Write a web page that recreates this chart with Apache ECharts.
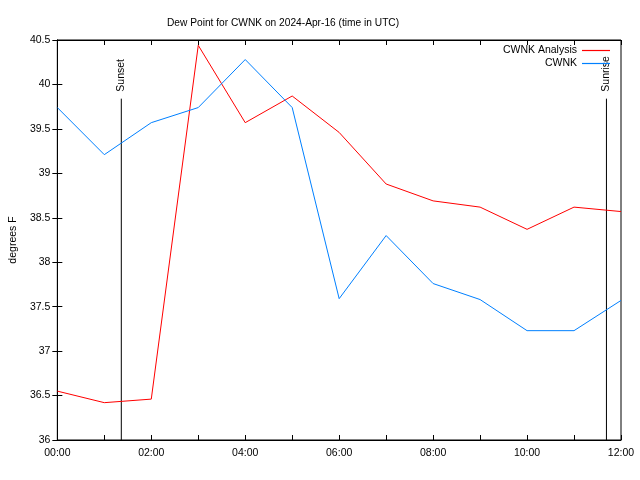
<!DOCTYPE html>
<html><head><meta charset="utf-8">
<script src="https://cdn.jsdelivr.net/npm/echarts@6/dist/echarts.min.js"></script>
<style>html,body{margin:0;padding:0;background:#fff}#c{width:640px;height:480px}</style>
</head><body><div id="c"></div>
<script>
var hours = [0,1,2,3,4,5,6,7,8,9,10,11,12];
var analysis = [36.55,36.42,36.46,40.44,39.57,39.87,39.46,38.88,38.69,38.62,38.37,38.62,38.57];
var cwnk = [39.74,39.21,39.57,39.74,40.28,39.74,37.59,38.30,37.76,37.58,37.23,37.23,37.57];
var xTickLabels = ['00:00','','02:00','','04:00','','06:00','','08:00','','10:00','','12:00'];
var sunEvents = [{name:'Sunset', hour:1.362}, {name:'Sunrise', hour:11.69}];
var sunLineTop = 39.84;
var FONT = 'Liberation Sans';
var FS = 10.5;

function pairs(vals){ return hours.map(function(h,i){return [h, vals[i]];}); }

var series = [
  {name:'CWNK Analysis', type:'line', data:pairs(analysis), symbol:'none', lineStyle:{color:'#ff0000', width:1}, itemStyle:{color:'#ff0000'}, z:3},
  {name:'CWNK', type:'line', data:pairs(cwnk), symbol:'none', lineStyle:{color:'#0080ff', width:1}, itemStyle:{color:'#0080ff'}, z:3}
];
sunEvents.forEach(function(ev){
  series.push({
    name:ev.name, type:'line', silent:true, symbol:'none', z:2,
    lineStyle:{color:'#000', width:1},
    data:[[ev.hour,36],{value:[ev.hour,sunLineTop], symbol:'circle', symbolSize:0.001,
      label:{show:true, formatter:ev.name, rotate:90, position:'top', distance:7,
        align:'left', verticalAlign:'middle', color:'#000', fontFamily:FONT, fontSize:FS}}]
  });
});

var chart = echarts.init(document.getElementById('c'));
chart.setOption({
  animation:false,
  backgroundColor:'#fff',
  title:{text:'Dew Point for CWNK on 2024-Apr-16 (time in UTC)', left:162, top:13,
    textStyle:{fontFamily:FONT, fontSize:10.2, fontWeight:'normal', color:'#000'}},
  legend:{data:[{name:'CWNK Analysis', icon:'rect', itemStyle:{color:'#ff0000'}},
                {name:'CWNK', icon:'rect', itemStyle:{color:'#0080ff'}}],
    orient:'vertical', right:30, top:45, padding:0, align:'right', itemWidth:28, itemHeight:1.2, itemGap:2,
    textStyle:{fontFamily:FONT, fontSize:FS, color:'#000'}},
  grid:{left:57, right:19, top:40, bottom:40, show:true, borderColor:'#000', borderWidth:1},
  xAxis:[{type:'value', min:0, max:12, interval:1,
      axisLine:{show:true, lineStyle:{color:'#000'}}, splitLine:{show:false},
      axisTick:{inside:true, length:5, lineStyle:{color:'#000'}},
      axisLabel:{color:'#000', fontFamily:FONT, fontSize:FS, margin:8,
        formatter:function(v){ return xTickLabels[Math.round(v)] || ''; }}},
    {type:'value', min:0, max:12, interval:1, position:'top',
      axisLine:{show:true, lineStyle:{color:'#000'}}, splitLine:{show:false},
      axisTick:{inside:true, length:5, lineStyle:{color:'#000'}}, axisLabel:{show:false}}],
  yAxis:[{type:'value', min:36, max:40.5, interval:0.5, name:'degrees F', nameLocation:'middle', nameGap:38,
      nameTextStyle:{fontFamily:FONT, fontSize:FS, color:'#000'},
      axisLine:{show:true, lineStyle:{color:'#000'}}, splitLine:{show:false},
      axisTick:{inside:true, length:5, lineStyle:{color:'#000'}},
      axisLabel:{color:'#000', fontFamily:FONT, fontSize:FS, margin:7}},
    {type:'value', min:36, max:40.5, interval:0.5, position:'right',
      axisLine:{show:true, lineStyle:{color:'#000'}}, splitLine:{show:false},
      axisTick:{inside:true, length:5, lineStyle:{color:'#000'}}, axisLabel:{show:false}}],
  series:series
});
</script></body></html>
